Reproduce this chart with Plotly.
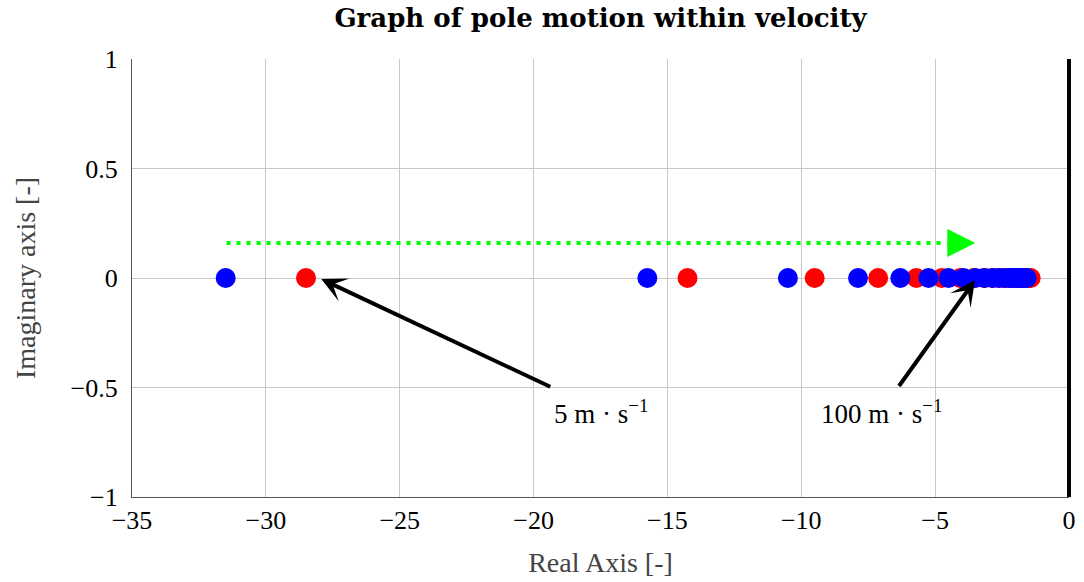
import plotly.graph_objects as go

# Pole positions (real part) for velocities 5..100 m/s, imaginary part 0
velocity = [5, 10, 15, 20, 25, 30, 35, 40, 45, 50, 55, 60, 65, 70, 75, 80, 85, 90, 95, 100]
red_real = [-28.5, -14.25, -9.5, -7.13, -5.7, -4.75, -4.07, -3.56, -3.17, -2.85,
            -2.59, -2.38, -2.19, -2.04, -1.9, -1.78, -1.68, -1.58, -1.5, -1.43]
blue_real = [-31.5, -15.75, -10.5, -7.88, -6.3, -5.25, -4.5, -3.94, -3.5, -3.15,
             -2.86, -2.63, -2.42, -2.25, -2.1, -1.97, -1.85, -1.75, -1.66, -1.58]
imag = [0.0] * len(velocity)

# Direction arrow (green dotted)
green_x = [-31.47, -4.6]
green_y = [0.16, 0.16]
green_head_tail = (-4.6, 0.16)
green_head_tip = (-3.5, 0.16)

# Black annotation arrows: (tail_x, tail_y, tip_x, tip_y)
arrows = [(-19.32, -0.5, -27.93, -0.005), (-6.39, -0.5, -3.51, -0.01)]
labels = ["5 m · s<sup>−1</sup>", "100 m · s<sup>−1</sup>"]
label_x = [-17.5, -7.0]
label_y = [-0.61, -0.61]

FONT = "Liberation Serif"

fig = go.Figure()
fig.add_trace(go.Scatter(x=green_x, y=green_y, mode="lines",
                         line=dict(color="#00ff00", width=4, dash="4px,6px"),
                         showlegend=False, hoverinfo="skip"))
fig.add_trace(go.Scatter(x=red_real, y=imag, mode="markers",
                         marker=dict(color="#ff0000", size=20, line=dict(width=0)),
                         showlegend=False))
fig.add_trace(go.Scatter(x=blue_real, y=imag, mode="markers",
                         marker=dict(color="#0000ff", size=20, line=dict(width=0)),
                         showlegend=False))

annotations = []
annotations.append(dict(x=green_head_tip[0], y=green_head_tip[1], ax=green_head_tail[0], ay=green_head_tail[1],
                        xref="x", yref="y", axref="x", ayref="y", text="", showarrow=True,
                        arrowhead=2, arrowwidth=4, arrowsize=1.4, arrowcolor="#00ff00"))
for tx, ty, hx, hy in arrows:
    annotations.append(dict(x=hx, y=hy, ax=tx, ay=ty, xref="x", yref="y", axref="x", ayref="y",
                            text="", showarrow=True, arrowhead=3, arrowwidth=4, arrowsize=1.05,
                            arrowcolor="black"))
for t, lx, ly in zip(labels, label_x, label_y):
    annotations.append(dict(x=lx, y=ly, xref="x", yref="y", text=t, showarrow=False,
                            font=dict(family=FONT, size=27, color="black")))

fig.update_layout(
    width=1084, height=582,
    margin=dict(l=132, r=15, t=59, b=85),
    plot_bgcolor="white", paper_bgcolor="white",
    title=dict(text="<b>Graph of pole motion within velocity</b>", x=0.5, xref="paper",
               xanchor="center", y=0.969, yref="container", yanchor="middle",
               font=dict(family="DejaVu Serif", size=26, color="black")),
    xaxis=dict(range=[-35, 0], tickvals=[-35, -30, -25, -20, -15, -10, -5, 0],
               ticktext=["−35", "−30", "−25", "−20", "−15", "−10", "−5", "0"],
               showgrid=True, gridcolor="#c8c8c8", gridwidth=1, zeroline=False,
               showline=True, linecolor="#555555", linewidth=1.3, ticks="",
               ticklabelstandoff=0, automargin=False,
               tickfont=dict(family=FONT, size=26, color="black"),
               title=dict(text="Real Axis [-]", font=dict(family=FONT, size=28, color="#444444"), standoff=18)),
    yaxis=dict(range=[-1, 1], tickvals=[-1, -0.5, 0, 0.5, 1],
               ticktext=["−1", "−0.5", "0", "0.5", "1"],
               showgrid=True, gridcolor="#c8c8c8", gridwidth=1, zeroline=False,
               showline=True, linecolor="#555555", linewidth=1.3, ticks="",
               ticklabelstandoff=8, automargin=False,
               tickfont=dict(family=FONT, size=26, color="black"),
               title=dict(text="Imaginary axis [-]", font=dict(family=FONT, size=28, color="#444444"), standoff=26)),
    annotations=annotations,
    shapes=[dict(type="line", xref="paper", yref="paper", x0=1, x1=1, y0=0, y1=1,
                 line=dict(color="black", width=4))],
)

fig.write_html("out.html")
